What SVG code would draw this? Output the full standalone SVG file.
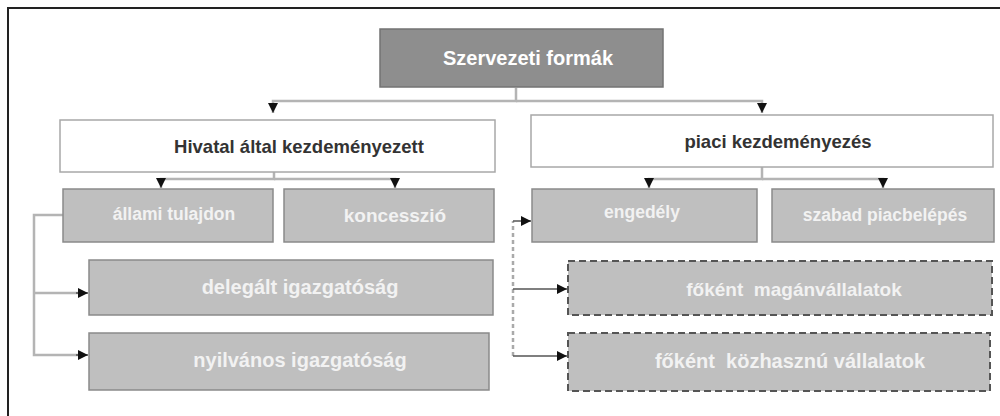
<svg xmlns="http://www.w3.org/2000/svg" width="1000" height="416" viewBox="0 0 1000 416">
<defs>
<style>
.frame{fill:none;stroke:#222;stroke-width:2}
.dark rect{fill:#8e8e8e;stroke:#737373;stroke-width:1.5}
.white rect{fill:#fff;stroke:#a8a8a8;stroke-width:1.5}
.grey rect{fill:#bfbfbf;stroke:#8a8a8a;stroke-width:1.5}
.dashed rect{fill:#bfbfbf;stroke:#555;stroke-width:2;stroke-dasharray:7 4}
text{font-family:"Liberation Sans",Arial,sans-serif;font-weight:bold;text-anchor:middle;dominant-baseline:central}
.dark text{fill:#fff;font-size:20px}
.white text{fill:#333;font-size:18.5px}
.grey text,.dashed text{fill:#f2f2f2}
.r2 text{font-size:17.5px}
.r3 text{font-size:20px}
.c{fill:none;stroke:#b4b4b4;stroke-width:2.5}
.cd{fill:none;stroke:#555;stroke-width:1.5}
.cdash{fill:none;stroke:#aaa;stroke-width:2.5;stroke-dasharray:4 3}
</style>
<marker id="ah" viewBox="0 0 10 10" refX="10" refY="5" markerWidth="10" markerHeight="10" markerUnits="userSpaceOnUse" orient="auto">
<path d="M0,0 L10,5 L0,10 z" fill="#111"/>
</marker>
</defs>
<rect width="1000" height="416" fill="#fff"/>
<path class="frame" d="M8,416 V8 H1000"/>

<g id="connectors">
<path class="c" d="M516,88 V101 H273 V113" marker-end="url(#ah)"/>
<path class="c" d="M516,101 H762 V113" marker-end="url(#ah)"/>
<path class="c" d="M274,172 V179 H161 V188" marker-end="url(#ah)"/>
<path class="c" d="M274,179 H395 V188" marker-end="url(#ah)"/>
<path class="c" d="M762,167 V179 H649 V188" marker-end="url(#ah)"/>
<path class="c" d="M762,179 H883 V188" marker-end="url(#ah)"/>
<path class="c" d="M63,215 H34 V355 H78"/>
<path class="c" d="M34,293 H78"/>
<path class="cd" d="M76,293 H88" marker-end="url(#ah)"/>
<path class="cd" d="M76,355 H88" marker-end="url(#ah)"/>
<path class="cdash" d="M513,356 V221"/>
<path class="cd" d="M513,221 H531" marker-end="url(#ah)"/>
<path class="cd" d="M513,289 H567" marker-end="url(#ah)"/>
<path class="cd" d="M513,356 H567" marker-end="url(#ah)"/>
</g>

<g id="n-szervezeti" class="dark">
<rect x="380" y="29" width="283" height="58"/>
<text x="528" y="58">Szervezeti formák</text>
</g>
<g id="n-hivatal" class="white">
<rect x="60" y="120" width="435" height="52"/>
<text x="299" y="146">Hivatal által kezdeményezett</text>
</g>
<g id="n-piaci" class="white">
<rect x="531" y="115" width="462" height="52"/>
<text x="778" y="141">piaci kezdeményezés</text>
</g>
<g id="n-allami" class="grey r2">
<rect x="63" y="189" width="210" height="53"/>
<text x="174" y="214">állami tulajdon</text>
</g>
<g id="n-koncesszio" class="grey r2">
<rect x="284" y="189" width="210" height="53"/>
<text x="395" y="215" style="font-size:19px">koncesszió</text>
</g>
<g id="n-engedely" class="grey r2">
<rect x="532" y="189" width="225" height="53"/>
<text x="642" y="212">engedély</text>
</g>
<g id="n-szabad" class="grey r2">
<rect x="772" y="189" width="222" height="53"/>
<text x="885" y="215">szabad piacbelépés</text>
</g>
<g id="n-delegalt" class="grey r3">
<rect x="89" y="260" width="404" height="55"/>
<text x="300" y="287">delegált igazgatóság</text>
</g>
<g id="n-nyilvanos" class="grey r3">
<rect x="89" y="333" width="400" height="57"/>
<text x="300" y="360">nyilvános igazgatóság</text>
</g>
<g id="n-magan" class="dashed r3">
<rect x="568" y="261" width="424" height="54"/>
<text x="794" y="289" style="font-size:19px" xml:space="preserve">főként  magánvállalatok</text>
</g>
<g id="n-kozhasznu" class="dashed r3">
<rect x="568" y="333" width="422" height="58"/>
<text x="790" y="361" xml:space="preserve">főként  közhasznú vállalatok</text>
</g>
</svg>
